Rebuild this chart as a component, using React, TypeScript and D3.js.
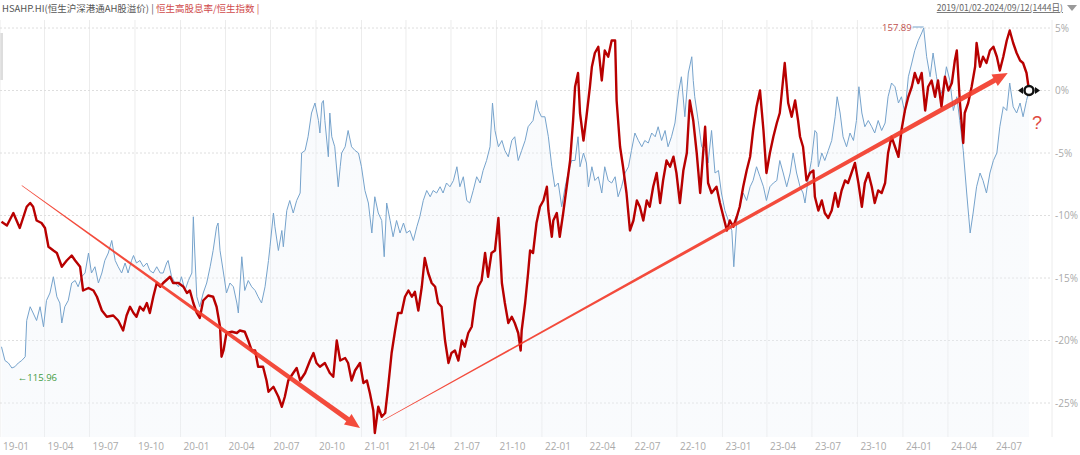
import React from 'react';
import * as d3 from 'd3';

// HSAHP.HI vs 恒生高股息率/恒生指数, both shown as % change relative to the last day (2024/09/12)
// day = calendar days after 2019-01-01, pct = value on the right axis
const redDays = [3,14,27,40,54,61,67,74,84,91,98,108,115,125,135,145,152,162,168,179,189,196,206,216,229,239,249,256,263,270,276,283,290,297,303,310,317,324,330,344,350,361,371,378,384,391,398,404,411,421,431,438,445,448,452,458,469,479,485,495,502,509,516,522,532,539,543,553,563,570,576,583,593,600,607,617,627,634,640,647,657,667,674,681,688,698,704,711,718,728,735,742,748,755,758,765,772,779,785,792,799,805,812,819,826,833,839,846,853,859,866,873,880,886,893,900,907,913,920,927,934,940,947,954,961,967,974,981,987,994,1001,1008,1015,1021,1028,1035,1041,1048,1053,1055,1062,1068,1072,1078,1085,1092,1099,1106,1109,1116,1119,1126,1132,1139,1146,1153,1159,1163,1169,1173,1180,1186,1193,1197,1203,1210,1217,1223,1230,1237,1244,1247,1254,1260,1267,1274,1281,1288,1294,1301,1308,1314,1321,1328,1335,1341,1348,1355,1362,1368,1375,1382,1389,1395,1402,1409,1416,1422,1426,1432,1439,1449,1456,1463,1470,1476,1483,1490,1496,1503,1510,1517,1523,1530,1537,1544,1550,1557,1564,1571,1577,1587,1594,1601,1608,1614,1618,1624,1631,1638,1645,1648,1655,1662,1668,1675,1682,1689,1695,1702,1709,1715,1722,1729,1736,1743,1749,1756,1763,1769,1776,1783,1790,1796,1803,1810,1817,1823,1830,1837,1844,1850,1857,1864,1871,1877,1884,1891,1897,1904,1911,1918,1925,1931,1935,1941,1948,1951,1958,1965,1972,1975,1982,1988,1995,2002,2009,2016,2022,2029,2036,2042,2049,2056,2063,2069,2076,2081];
const redPct = [-10.5,-10.8,-9.8,-11.0,-9.3,-9.0,-9.3,-10.4,-10.6,-11.0,-12.5,-12.8,-13.0,-14.1,-13.6,-13.2,-13.6,-14.1,-16.0,-15.8,-16.0,-16.5,-17.6,-18.1,-18.0,-18.4,-19.2,-18.0,-17.3,-17.8,-18.1,-17.3,-17.6,-17.0,-17.8,-16.5,-15.4,-15.7,-15.4,-14.9,-15.4,-15.4,-15.7,-16.2,-16.0,-17.0,-17.8,-18.2,-16.8,-16.4,-16.5,-17.3,-18.9,-21.3,-20.8,-19.4,-19.3,-19.4,-19.2,-19.3,-20.0,-20.8,-20.8,-22.1,-22.1,-23.2,-24.1,-23.7,-24.5,-25.3,-24.5,-23.2,-22.6,-22.2,-23.2,-22.6,-21.6,-21.0,-21.8,-22.1,-21.8,-22.6,-22.9,-20.0,-21.6,-21.4,-21.8,-23.2,-22.4,-21.8,-23.4,-23.2,-24.2,-25.6,-27.4,-25.3,-26.1,-25.8,-23.7,-21.0,-19.2,-17.8,-17.8,-16.5,-16.0,-16.5,-16.1,-17.6,-15.7,-13.4,-14.6,-15.4,-15.7,-17.0,-17.3,-20.0,-21.8,-21.0,-20.8,-21.6,-20.0,-20.5,-19.4,-18.9,-16.8,-15.7,-15.2,-13.0,-14.9,-13.0,-12.8,-10.2,-15.4,-17.0,-18.6,-18.1,-18.6,-19.4,-20.8,-19.2,-17.0,-14.6,-12.8,-13.0,-10.6,-9.3,-8.8,-7.7,-9.6,-11.7,-10.4,-9.8,-11.7,-9.8,-7.7,-5.6,-2.4,0.3,1.4,-1.8,-4.0,-2.1,0.3,1.9,3.0,3.5,0.8,3.2,2.7,4.0,4.0,-0.8,-4.5,-6.1,-8.2,-11.2,-10.4,-8.8,-9.3,-10.4,-8.8,-9.3,-7.7,-6.6,-9.0,-7.2,-5.6,-6.1,-5.3,-6.6,-9.0,-6.4,-5.0,-0.8,-2.4,-5.0,-8.2,-5.0,-2.9,-7.4,-8.2,-7.7,-9.0,-10.1,-11.2,-10.4,-10.9,-10.1,-9.3,-7.7,-6.4,-5.3,-3.2,-1.3,0.0,-3.2,-6.6,-5.0,-3.7,-2.6,-1.8,2.2,-1.0,-2.1,-0.8,-2.4,-3.7,-4.5,-7.2,-6.6,-6.4,-8.5,-9.6,-8.8,-9.8,-10.2,-9.6,-8.2,-9.3,-8.0,-7.2,-7.4,-6.6,-5.8,-7.4,-9.3,-7.4,-6.6,-7.7,-9.0,-8.0,-8.2,-7.4,-5.0,-3.7,-4.5,-5.3,-3.2,-1.6,-0.5,0.3,1.4,0.6,1.4,-1.6,0.3,0.8,-0.5,0.8,-1.3,1.1,0.0,0.6,2.4,3.2,-0.8,-4.2,-1.8,-1.0,0.3,1.9,3.8,1.9,2.7,2.2,3.2,3.5,2.7,1.6,2.7,4.0,4.8,3.8,3.0,2.4,2.2,1.4,0.0];

const blueDays = [3,10,17,24,30,37,44,51,54,61,67,74,81,88,94,101,108,115,121,125,131,138,145,152,158,165,172,179,185,192,199,206,212,219,226,233,239,246,253,259,266,270,276,283,290,297,303,310,317,324,330,337,340,347,354,361,367,374,381,388,391,394,398,404,411,418,425,431,438,441,445,452,458,465,472,479,482,489,495,502,509,516,522,529,536,543,546,553,556,563,570,573,580,586,593,600,607,610,617,623,630,637,644,647,651,654,657,664,667,671,677,684,688,691,698,704,711,718,725,731,738,745,752,758,765,772,777,782,789,795,802,809,816,822,829,836,843,849,856,863,870,876,883,890,896,903,910,917,924,930,937,944,950,957,964,971,977,984,991,996,1001,1008,1015,1021,1028,1035,1041,1048,1055,1062,1068,1078,1085,1089,1095,1102,1109,1116,1122,1129,1136,1143,1149,1156,1163,1169,1173,1180,1186,1190,1197,1203,1210,1217,1223,1230,1237,1244,1250,1257,1264,1271,1277,1284,1291,1298,1304,1311,1318,1325,1331,1338,1345,1351,1358,1365,1372,1378,1385,1392,1399,1402,1405,1412,1419,1426,1432,1439,1446,1453,1459,1466,1473,1480,1484,1490,1496,1503,1510,1517,1523,1530,1537,1544,1550,1557,1564,1571,1577,1584,1591,1598,1604,1611,1618,1624,1628,1635,1641,1648,1652,1655,1662,1668,1675,1682,1689,1693,1699,1705,1712,1719,1726,1732,1737,1743,1749,1756,1763,1769,1776,1783,1790,1796,1803,1810,1817,1823,1830,1837,1844,1850,1857,1864,1868,1874,1881,1887,1894,1901,1908,1914,1921,1928,1935,1941,1948,1955,1962,1968,1975,1982,1988,1995,2002,2009,2016,2022,2029,2036,2042,2049,2056,2063,2069,2076,2081];
const bluePct = [-20.5,-21.6,-21.8,-22.2,-22.1,-21.8,-21.6,-21.3,-18.4,-17.3,-17.8,-18.4,-17.3,-18.9,-16.8,-16.2,-14.9,-16.5,-17.0,-18.6,-17.3,-16.8,-15.4,-15.2,-15.7,-14.9,-14.6,-13.0,-14.6,-14.1,-15.4,-14.6,-13.6,-13.0,-12.0,-13.6,-14.1,-14.6,-13.8,-14.6,-13.6,-13.2,-13.8,-13.6,-14.1,-13.8,-14.4,-14.6,-14.1,-14.6,-14.6,-13.8,-13.6,-14.9,-15.4,-15.7,-14.9,-16.0,-15.2,-14.6,-10.1,-13.0,-16.5,-17.3,-16.2,-15.4,-14.1,-12.8,-10.9,-10.6,-12.8,-14.6,-16.2,-15.4,-15.7,-17.0,-17.8,-13.3,-16.0,-15.2,-15.7,-16.0,-16.5,-17.0,-15.7,-13.6,-12.5,-9.8,-10.9,-12.8,-11.2,-12.5,-9.6,-8.8,-9.8,-8.8,-8.2,-5.0,-4.8,-3.7,-1.8,-1.0,-2.4,-3.4,-1.0,-0.8,-2.4,-5.3,-1.8,-3.7,-4.5,-7.7,-6.1,-5.0,-4.5,-3.2,-4.5,-4.8,-5.0,-6.1,-8.0,-9.0,-11.4,-8.5,-9.8,-10.4,-13.3,-9.0,-10.4,-11.7,-10.4,-11.4,-10.6,-11.4,-11.2,-12.0,-10.9,-10.1,-8.8,-8.0,-8.5,-8.0,-8.2,-7.7,-8.2,-7.4,-7.7,-7.2,-6.1,-7.7,-6.9,-8.8,-9.0,-8.0,-6.9,-7.4,-6.4,-5.6,-4.5,-1.0,-3.2,-4.5,-4.0,-4.8,-5.3,-4.0,-3.7,-5.6,-4.8,-4.0,-2.9,-2.4,-0.8,-1.6,-2.1,-2.1,-3.7,-6.1,-7.7,-7.4,-9.3,-7.7,-6.6,-5.6,-5.6,-3.7,-6.1,-5.0,-5.8,-7.7,-6.1,-7.2,-6.9,-8.2,-6.1,-7.2,-7.4,-6.9,-8.5,-7.7,-6.6,-6.1,-4.8,-3.4,-4.0,-4.5,-4.0,-4.2,-3.4,-3.7,-2.9,-4.0,-3.2,-4.5,-3.7,-2.6,-0.2,1.1,-2.1,1.4,2.7,0.8,-0.5,-2.4,-4.5,-4.8,-5.8,-3.2,-6.6,-6.4,-8.2,-9.6,-10.4,-11.2,-14.1,-10.4,-9.3,-8.2,-8.8,-7.7,-7.2,-6.1,-6.9,-7.7,-8.8,-7.7,-7.4,-7.2,-5.6,-6.6,-7.7,-6.6,-5.0,-6.6,-7.7,-8.2,-9.0,-6.9,-5.6,-3.2,-3.4,-6.1,-5.0,-5.6,-4.8,-4.0,-2.1,-0.5,-1.8,-3.7,-4.5,-3.4,-4.0,-2.4,0.3,-1.8,-2.9,-2.4,-2.9,-3.4,-2.4,-3.2,-2.6,-0.5,0.6,0.3,-1.0,-0.5,-1.8,1.1,2.2,3.2,4.0,4.6,5.0,2.7,1.1,3.0,1.1,-0.5,0.3,1.9,0.8,-1.6,-0.5,-2.4,-4.8,-8.2,-11.4,-9.8,-7.7,-6.6,-7.2,-8.2,-6.6,-5.6,-5.0,-2.9,-1.3,-1.6,0.6,-1.3,-1.8,-1.0,-2.1,-0.8,0.0];

const yTicks = [5, 0, -5, -10, -15, -20, -25];
const headerLeft = 'HSAHP.HI(恒生沪深港通AH股溢价) | ';
const headerRed = '恒生高股息率/恒生指数 |';
const rangeText = '2019/01/02-2024/09/12(1444日)';
const blueMin = { day: 24, pct: -22.2, text: '←115.96' };
const blueMax = { day: 1868, pct: 5.0, text: '157.89' };
const arrows = [
  { from: { day: 44, pct: -7.6 }, to: { day: 728, pct: -27.0 }, w: 2.6 },
  { from: { day: 774, pct: -26.4 }, to: { day: 2038, pct: 1.4 }, w: 2.6 },
];

const W = 1080;
const H = 455;
const plotTop = 20;
const plotBottom = 437;
const plotRight = 1052;

const start = new Date(2019, 0, 1);
const end = new Date(2024, 8, 12);
const dayToDate = (d: number) => d3.timeDay.offset(start, d);

export default function App() {
  const x = d3.scaleTime().domain([start, end]).range([0, 1029]);
  const y = d3.scaleLinear().domain([-25, 5]).range([403, 28]);

  const red = redDays.map((d, i) => [dayToDate(d), redPct[i]] as [Date, number]);
  const blue = blueDays.map((d, i) => [dayToDate(d), bluePct[i]] as [Date, number]);

  const line = d3.line<[Date, number]>().x(d => x(d[0])).y(d => y(d[1]));
  const area = d3.area<[Date, number]>().x(d => x(d[0])).y0(plotBottom).y1(d => y(d[1]));

  const quarters = d3.timeMonth.every(3)!.range(start, end);
  const fmt = d3.timeFormat('%y-%m');

  // tapered arrow polygon
  const arrowPath = (a: typeof arrows[0]) => {
    const sx = x(dayToDate(a.from.day)), sy = y(a.from.pct);
    const tx = x(dayToDate(a.to.day)), ty = y(a.to.pct);
    const len = Math.hypot(tx - sx, ty - sy);
    const ux = (tx - sx) / len, uy = (ty - sy) / len;
    const nx = -uy, ny = ux;
    const headLen = 15, headW = 6.5;
    const bx = tx - ux * headLen, by = ty - uy * headLen;
    const w0 = 0.35;
    const pts = [
      [sx + nx * w0, sy + ny * w0],
      [bx + nx * a.w, by + ny * a.w],
      [bx + nx * headW, by + ny * headW],
      [tx, ty],
      [bx - nx * headW, by - ny * headW],
      [bx - nx * a.w, by - ny * a.w],
      [sx - nx * w0, sy - ny * w0],
    ];
    return 'M' + pts.map(p => p.join(',')).join('L') + 'Z';
  };

  const endX = x(end);
  const endY = y(0);
  const minX = x(dayToDate(blueMin.day)), minY = y(blueMin.pct);
  const maxX = x(dayToDate(blueMax.day)), maxY = y(blueMax.pct);

  return (
    <div style={{ position: 'absolute', left: 0, top: 0 }}>
      <svg width={W} height={H} viewBox={`0 0 ${W} ${H}`} style={{ display: 'block', background: '#fff' }}>
        <defs>
          <linearGradient id="blueFill" x1="0" y1="0" x2="0" y2="1" gradientUnits="userSpaceOnUse">
            <stop offset="0" stopColor="#d9e6f3" stopOpacity="0.7" />
            <stop offset="1" stopColor="#eef3f9" stopOpacity="0.35" />
          </linearGradient>
        </defs>

        {/* header */}
        <text x={2} y={12} fontSize={9.5} fontFamily="'Noto Sans CJK SC', sans-serif">
          <tspan fill="#555">{headerLeft}</tspan>
          <tspan fill="#d04a4a">{headerRed}</tspan>
        </text>
        <text x={1063} y={11} textAnchor="end" fontSize={8.6} fill="#666" textDecoration="underline"
          fontFamily="'Noto Sans CJK SC', sans-serif">{rangeText}</text>
        <path d="M1067,5L1077,5L1072,11Z" fill="#999" />

        <rect x={0} y={33} width={3} height={47} fill="#ddd" />

        {/* grid */}
        {quarters.map(q => (
          <line key={+q} x1={x(q)} x2={x(q)} y1={plotTop} y2={plotBottom} stroke="#ececec" />
        ))}
        <line x1={plotRight} x2={plotRight} y1={plotTop} y2={plotBottom} stroke="#ececec" />
        {yTicks.map(t => (
          <line key={t} x1={0} x2={plotRight} y1={y(t)} y2={y(t)} stroke="#dedede" strokeDasharray="2,2" />
        ))}

        {/* blue area + line */}
        <path d={area(blue) ?? ''} fill="url(#blueFill)" />
        <path d={line(blue) ?? ''} fill="none" stroke="#76a3cc" strokeWidth={1} />

        {/* red line */}
        <path d={line(red) ?? ''} fill="none" stroke="#b80000" strokeWidth={2.4} strokeLinejoin="round" />

        {/* arrows */}
        {arrows.map((a, i) => (
          <path key={i} d={arrowPath(a)} fill="#f23c2b" fillOpacity={0.92} />
        ))}

        {/* labels for extremes */}
        <text x={minX + 6} y={minY + 13} fontSize={9.5} fill="#3f9a3f" fontFamily="'Open Sans', sans-serif">{blueMin.text}</text>
        <line x1={maxX - 11} x2={maxX} y1={maxY - 1} y2={maxY - 1} stroke="#76a3cc" />
        <text x={maxX - 12} y={maxY + 3} textAnchor="end" fontSize={9.5} fill="#c0504d" fontFamily="'Open Sans', sans-serif">{blueMax.text}</text>

        {/* end marker */}
        <path d={`M${endX - 11},${endY}L${endX - 6},${endY - 3.5}L${endX - 6},${endY + 3.5}Z`} fill="#111" />
        <path d={`M${endX + 11},${endY}L${endX + 6},${endY - 3.5}L${endX + 6},${endY + 3.5}Z`} fill="#111" />
        <circle cx={endX} cy={endY} r={4.5} fill="#fff" stroke="#111" strokeWidth={2.5} />
        <text x={endX + 3} y={endY + 38} fontSize={18} fill="#e04a3f" fontFamily="'Liberation Sans', sans-serif">?</text>

        {/* axes labels */}
        {yTicks.map(t => (
          <text key={t} x={plotRight + 3} y={y(t) + 3.5} fontSize={10} fill="#aaa" fontFamily="'Open Sans', sans-serif">{`${t}%`}</text>
        ))}
        {quarters.map(q => (
          <text key={+q} x={x(q) + 3} y={450} fontSize={10} fill="#aaa" fontFamily="'Open Sans', sans-serif">{fmt(q)}</text>
        ))}
      </svg>
    </div>
  );
}
